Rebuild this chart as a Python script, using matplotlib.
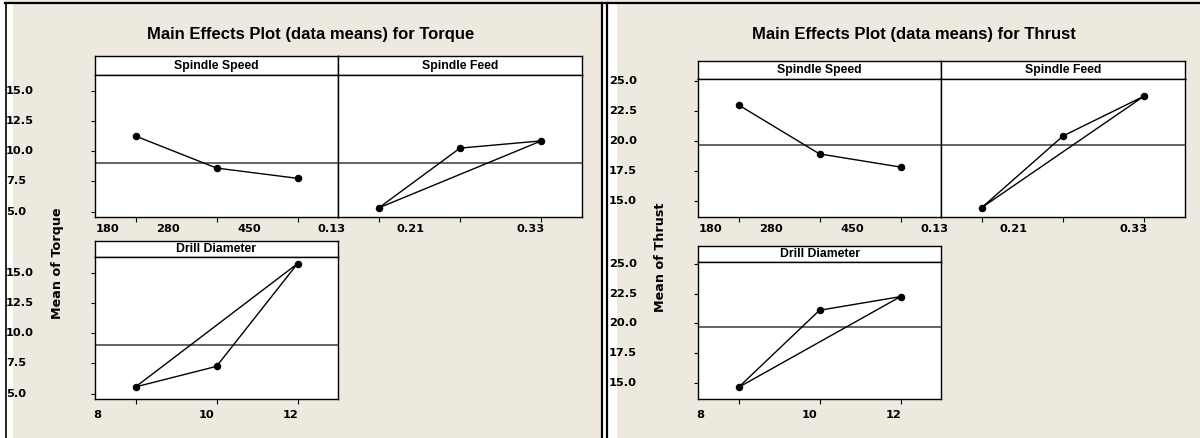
import matplotlib
matplotlib.use("Agg")
import matplotlib.pyplot as plt
import matplotlib.transforms as mtransforms
from matplotlib.patches import Rectangle
from matplotlib.lines import Line2D

W, H = 1200, 438
BG = "#EDE9DF"

# factor levels and their labels
levels = [1, 2, 3]
speed_labels = ["180", "280", "450"]
feed_labels = ["0.13", "0.21", "0.33"]
dia_labels = ["8", "10", "12"]

# data means
torque_speed = [11.25, 8.6, 7.75]
torque_feed = [5.3, 10.25, 10.85]
torque_dia = [5.55, 7.25, 15.75]
torque_mean = 9.0

thrust_speed = [23.0, 18.9, 17.8]
thrust_feed = [14.4, 20.4, 23.75]
thrust_dia = [14.6, 21.1, 22.25]
thrust_mean = 19.65

torque_yticks = [5.0, 7.5, 10.0, 12.5, 15.0]
thrust_yticks = [15.0, 17.5, 20.0, 22.5, 25.0]

# where the level labels sit (in level units along the top row / bottom panel)
top_label_x = [0.65, 1.40, 2.41, 3.42, 4.39, 5.88]
dia_label_x = [0.53, 1.88, 2.92]

TICK_FONT = dict(family="DejaVu Sans", weight="bold", size=8.2)
HEAD_FONT = dict(family=["Liberation Sans Narrow", "Liberation Sans"], weight="bold", size=8.8)

fig = plt.figure(figsize=(W / 100, H / 100), dpi=100, facecolor=BG)


def fx(x):
    return x / W


def fy(y):
    return 1 - y / H


def rect(x0, y0, x1, y1):
    return [fx(x0), fy(y1), fx(x1) - fx(x0), fy(y0) - fy(y1)]


def frame_rect(x0, y0, x1, y1, color):
    fig.add_artist(Rectangle((fx(x0), fy(y1)), fx(x1) - fx(x0), fy(y0) - fy(y1),
                             transform=fig.transFigure, facecolor=color,
                             edgecolor="none", zorder=0))


def header(x0, y0, x1, y1, text):
    ax = fig.add_axes(rect(x0, y0, x1, y1))
    ax.set_facecolor("white")
    ax.set_xticks([])
    ax.set_yticks([])
    for s in ax.spines.values():
        s.set_linewidth(1.0)
    ax.text(0.5, 0.5, text, ha="center", va="center", transform=ax.transAxes, **HEAD_FONT)
    return ax


def panel(x0, y0, x1, y1, values, mean, ylim, closed, yticks=None):
    ax = fig.add_axes(rect(x0, y0, x1, y1))
    ax.set_facecolor("white")
    order = [0, 1, 2, 0] if closed else [0, 1, 2]
    ax.plot([levels[i] for i in order], [values[i] for i in order],
            color="black", lw=1.0, zorder=3)
    ax.plot(levels, values, "o", color="black", ms=4.4, zorder=4)
    ax.axhline(mean, color="#3a3a3a", lw=1.1, zorder=2)
    ax.set_xlim(0.5, 3.5)
    ax.set_ylim(*ylim)
    ax.set_xticks(levels)
    ax.set_xticklabels([])
    ax.tick_params(axis="x", direction="out", length=3.5, width=0.8)
    if yticks is not None:
        ax.set_yticks(yticks)
        ax.set_yticklabels([])
        ax.tick_params(axis="y", direction="out", length=3, width=0.8)
    else:
        ax.set_yticks([])
    for s in ax.spines.values():
        s.set_linewidth(1.0)
    return ax


def ytick_text(ax, x_px, yticks):
    tr = mtransforms.blended_transform_factory(fig.transFigure, ax.transData)
    for v in yticks:
        ax.text(fx(x_px), v, f"{v:.1f}", ha="left", va="center", transform=tr,
                clip_on=False, **TICK_FONT)


def xtick_text(ax, xs, labels, y_px):
    tr = mtransforms.blended_transform_factory(ax.transData, fig.transFigure)
    for x, lab in zip(xs, labels):
        ax.text(x, fy(y_px), lab, ha="center", va="center", transform=tr,
                clip_on=False, **TICK_FONT)


def main_effects(x_off, title, ylabel, speed, feed, dia, mean, ylim, yticks,
                 top_hdr, top_bot, bot_hdr, bot_top, ylab_y):
    left, mid, right = x_off + 95, x_off + 338, x_off + 582
    fig.text(fx(x_off + 311), fy(35), title, ha="center", va="center",
             family="Liberation Sans", weight="bold", size=12)

    header(left, top_hdr, mid, top_bot[0], "Spindle Speed")
    header(mid, top_hdr, right, top_bot[0], "Spindle Feed")
    ax_s = panel(left, top_bot[0], mid, top_bot[1], speed, mean, ylim, False, yticks)
    panel(mid, top_bot[0], right, top_bot[1], feed, mean, ylim, True)

    header(left, bot_hdr, mid, bot_top[0], "Drill Diameter")
    ax_d = panel(left, bot_top[0], mid, bot_top[1], dia, mean, ylim, True, yticks)

    ytick_text(ax_s, x_off + 6, yticks)
    ytick_text(ax_d, x_off + 6, yticks)
    xtick_text(ax_s, top_label_x, speed_labels + feed_labels, top_bot[1] + 12)
    xtick_text(ax_d, dia_label_x, dia_labels, bot_top[1] + 16)

    fig.text(fx(x_off + 57), fy(ylab_y), ylabel, rotation=90, ha="center", va="center",
             family="DejaVu Sans", weight="bold", size=9.2)


# page frame: white margin, rules and the double divider
frame_rect(0, 0, 5, H, "white")
frame_rect(6, 4, 13, H, "white")
frame_rect(603, 4, 606, H, "white")
frame_rect(608, 4, 617, H, "white")
fig.add_artist(Line2D([fx(5), fx(W)], [fy(3), fy(3)], transform=fig.transFigure,
                      color="black", lw=1.6))
fig.add_artist(Line2D([fx(5.5), fx(5.5)], [fy(3), fy(H)], transform=fig.transFigure,
                      color="black", lw=1.2))
for xl in (601.5, 606.5):
    fig.add_artist(Line2D([fx(xl), fx(xl)], [fy(3), fy(H)], transform=fig.transFigure,
                          color="black", lw=1.6))

main_effects(0, "Main Effects Plot (data means) for Torque", "Mean of Torque",
             torque_speed, torque_feed, torque_dia, torque_mean, (4.55, 16.3),
             torque_yticks, 56, (75, 217), 241, (257, 399), 263)

main_effects(603, "Main Effects Plot (data means) for Thrust", "Mean of Thrust",
             thrust_speed, thrust_feed, thrust_dia, thrust_mean, (13.62, 25.17),
             thrust_yticks, 61, (79, 217), 246, (262, 399), 257)

fig.savefig("out.png", dpi=100, facecolor=BG)
